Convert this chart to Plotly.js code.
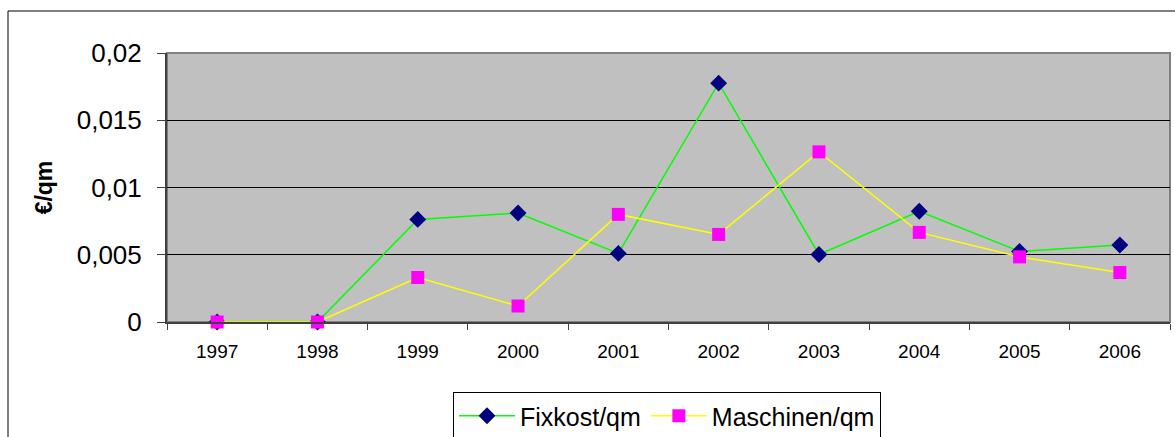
<!DOCTYPE html>
<html>
<head>
<meta charset="utf-8">
<script src="https://cdn.plot.ly/plotly-3.0.1.min.js"></script>
<style>
html,body{margin:0;padding:0;background:#fff;}
#chart{width:1175px;height:437px;}
</style>
</head>
<body>
<div id="chart"></div>
<script>
const years = ['1997','1998','1999','2000','2001','2002','2003','2004','2005','2006'];
const fixkost = [0, 0, 0.00763, 0.0081, 0.0051, 0.01776, 0.00502, 0.00823, 0.00525, 0.00572];
const maschinen = [0, 0, 0.00331, 0.00119, 0.0080, 0.00651, 0.01265, 0.00666, 0.00484, 0.00368];
const yTickVals = [0, 0.005, 0.01, 0.015, 0.02];
const yTickText = ['0', '0,005', '0,01', '0,015', '0,02'];

const W = 1175, H = 437;
const L = 167, R = 1170, T = 53, B = 322;
const pw = R - L, ph = B - T;
function px(x){ return (x - L) / pw; }
function py(y){ return (B - y) / ph; }

const traces = [
  {
    x: years, y: fixkost, name: 'Fixkost/qm', type: 'scatter', mode: 'lines+markers',
    cliponaxis: false,
    line: {color: '#00FF00', width: 1.5},
    marker: {symbol: 'diamond', size: 13, color: '#000080', line: {width: 0}}
  },
  {
    x: years, y: maschinen, name: 'Maschinen/qm', type: 'scatter', mode: 'lines+markers',
    cliponaxis: false,
    line: {color: '#FFFF00', width: 1.5},
    marker: {symbol: 'square', size: 13, color: '#FF00FF', line: {width: 0}}
  }
];

const layout = {
  width: W, height: H,
  margin: {l: L, r: W - R, t: T, b: H - B, pad: 0, autoexpand: false},
  paper_bgcolor: '#FFFFFF',
  plot_bgcolor: '#C0C0C0',
  font: {family: 'Liberation Sans, Arial, sans-serif', color: '#000'},
  showlegend: true,
  legend: {
    orientation: 'h', x: px(667), xanchor: 'center', y: py(392), yanchor: 'top',
    bgcolor: '#FFFFFF', bordercolor: '#000000', borderwidth: 1,
    font: {size: 25, color: '#000'}, itemwidth: 56, tracegroupgap: 0
  },
  xaxis: {
    type: 'category', range: [-0.5, 9.5], fixedrange: true,
    tickson: 'boundaries', ticks: 'outside', ticklen: 6, tickcolor: '#404040', tickwidth: 1,
    tickfont: {size: 19}, showgrid: false, zeroline: false, ticklabelstandoff: 11,
    showline: true, linecolor: '#404040', linewidth: 2, mirror: false
  },
  yaxis: {
    range: [0, 0.02], tickvals: yTickVals, ticktext: yTickText,
    ticks: 'outside', ticklen: 8, tickcolor: '#404040', tickwidth: 1, ticklabelstandoff: 10,
    tickfont: {size: 26}, showgrid: true, gridcolor: '#000000', gridwidth: 1,
    zeroline: false, showline: true, linecolor: '#404040', linewidth: 2,
    title: {text: '<b>€/qm</b>', font: {size: 23}, standoff: 18}
  },
  shapes: [
    {type: 'rect', xref: 'paper', yref: 'paper', x0: 0, x1: 1, y0: 0, y1: 1,
     line: {color: '#808080', width: 2}, fillcolor: 'rgba(0,0,0,0)', layer: 'below'},
    {type: 'rect', xref: 'paper', yref: 'paper', x0: px(8), x1: px(1185), y0: py(11), y1: py(450),
     line: {color: '#000000', width: 1}, fillcolor: 'rgba(0,0,0,0)', layer: 'below'}
  ]
};

Plotly.newPlot('chart', traces, layout, {displayModeBar: false, staticPlot: true});
</script>
</body>
</html>
